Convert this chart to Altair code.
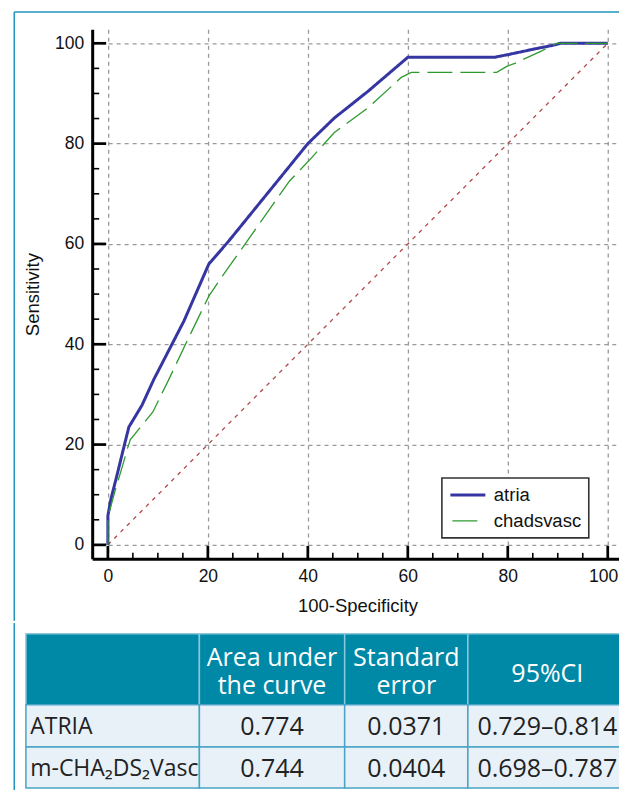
import altair as alt
import pandas as pd

# ---------------- ROC data ----------------
series_names = ["atria", "chadsvasc"]
atria_fpr = [0, 0, 0.6, 1.8, 3.2, 4.2, 6.8, 9.2, 15.2, 20.2, 24.2, 33.9, 40.0, 45.3, 52.0, 58.7, 60.0, 77.3, 80.8, 85.0, 89.5, 90.5, 100]
atria_tpr = [0, 5.8, 9.1, 13.8, 19.5, 23.5, 27.8, 33.0, 44.6, 56.0, 60.6, 72.5, 80.0, 85.1, 90.4, 96.1, 97.2, 97.2, 97.9, 98.8, 99.7, 100, 100]
chads_fpr = [0, 0, 1.5, 3.0, 4.0, 4.5, 9.0, 12.2, 16.5, 20.2, 22.9, 27.9, 36.3, 40.4, 45.3, 52.0, 58.7, 60.7, 77.8, 79.8, 81.4, 86.8, 89.8, 100]
chads_tpr = [0, 5.5, 11.0, 16.0, 19.5, 21.0, 26.5, 33.0, 42.0, 49.6, 53.6, 60.6, 72.5, 76.8, 82.2, 87.1, 93.2, 94.2, 94.2, 95.4, 96.0, 98.5, 100, 100]
diag_x = [0, 100]
diag_y = [0, 100]
major_ticks = [0, 20, 40, 60, 80, 100]
minor_ticks = [5, 10, 15, 25, 30, 35, 45, 50, 55, 65, 70, 75, 85, 90, 95]

# ---------------- table data ----------------
table_headers = ["", "Area under\nthe curve", "Standard\nerror", "95%CI"]
row_labels = ["ATRIA", "m-CHA\u2082DS\u2082Vasc"]
auc_values = ["0.774", "0.744"]
se_values = ["0.0371", "0.0404"]
ci_values = ["0.729\u20130.814", "0.698\u20130.787"]

# ---------------- styles / layout ----------------
BLUE = "#3636A3"
GREEN = "#2E9A2E"
RED = "#B5474A"
FRAME = "#2196BE"
HEAD_FILL = "#0088A7"
BODY_FILL = "#E8F1F8"
AX_FONT = "Liberation Sans"
TB_FONT = "Open Sans"

W, H = 531, 530
xs = alt.Scale(domain=[-3.14, 103.0], nice=False, zero=False)
ys = alt.Scale(domain=[-2.79, 102.79], nice=False, zero=False)

rows = []
for s, fx, fy in [(series_names[0], atria_fpr, atria_tpr), (series_names[1], chads_fpr, chads_tpr)]:
    for i, (a, b) in enumerate(zip(fx, fy)):
        rows.append({"series": s, "fpr": a, "tpr": b, "i": i})
roc_df = pd.DataFrame(rows)
diag_df = pd.DataFrame({"fpr": diag_x, "tpr": diag_y})
major_df = pd.DataFrame({"fpr": major_ticks, "tpr": major_ticks})
minor_df = pd.DataFrame({"fpr": minor_ticks, "tpr": minor_ticks})
one = pd.DataFrame({"a": [0]})

axis_common = dict(
    values=major_ticks, grid=True, gridColor="#9a9a9a", gridDash=[4, 4], gridWidth=1.3,
    domainColor="black", domainWidth=3, ticks=False, tickSize=0,
    labelFont=AX_FONT, labelFontSize=17.5, labelColor="#111",
    titleFont=AX_FONT, titleFontSize=18.5, titleFontWeight="normal", titleColor="#111",
)
# last x label is nudged flush so it stays inside the page
x_axis = alt.Axis(labelPadding=9, titlePadding=11, labelFlush=15.35, labelFlushOffset=10, **axis_common)
y_axis = alt.Axis(labelPadding=8.5, titlePadding=12.5, labelFlush=False, **axis_common)
X_TITLE = "100-Specificity"
Y_TITLE = "Sensitivity"


def xenc():
    return alt.X("fpr:Q", scale=xs, axis=x_axis, title=X_TITLE)


def yenc():
    return alt.Y("tpr:Q", scale=ys, axis=y_axis, title=Y_TITLE)


leg = alt.Legend(
    title=None, orient="none", legendX=350, legendY=449, direction="vertical",
    symbolType="stroke", symbolSize=1225, clipHeight=20, symbolDashOffset=31,
    labelFont=AX_FONT, labelFontSize=18.5,
    labelColor="#111", labelOffset=7, padding=7, rowPadding=6,
    fillColor="white", strokeColor="#333",
)

diag = alt.Chart(diag_df).mark_line(color=RED, strokeWidth=1.3, strokeDash=[4, 5]).encode(
    x=xenc(), y=yenc())

curves = alt.Chart(roc_df).mark_line().encode(
    x=xenc(), y=yenc(),
    color=alt.Color("series:N", scale=alt.Scale(domain=series_names, range=[BLUE, GREEN]), legend=leg),
    strokeWidth=alt.StrokeWidth("series:N", scale=alt.Scale(domain=series_names, range=[3, 1.3]), legend=leg),
    strokeDash=alt.StrokeDash("series:N", scale=alt.Scale(domain=series_names, range=[[1, 0], [25, 8]]), legend=None),
    order="i:Q",
)

ytick_major = alt.Chart(major_df).mark_rule(color="black", strokeWidth=2.7).encode(
    y=yenc(), x=alt.value(0), x2=alt.value(14))
ytick_minor = alt.Chart(minor_df).mark_rule(color="black", strokeWidth=1.6).encode(
    y=yenc(), x=alt.value(0), x2=alt.value(7))
xtick_major = alt.Chart(major_df).mark_rule(color="black", strokeWidth=2.7).encode(
    x=xenc(), y=alt.value(H), y2=alt.value(H - 13))
xtick_minor = alt.Chart(minor_df).mark_rule(color="black", strokeWidth=1.6).encode(
    x=xenc(), y=alt.value(H), y2=alt.value(H - 6))

frame_top = alt.Chart(one).mark_rule(color=FRAME, strokeWidth=1.5).encode(
    x=alt.value(-78), x2=alt.value(535), y=alt.value(-17.3))
frame_left = alt.Chart(one).mark_rule(color=FRAME, strokeWidth=1.5).encode(
    x=alt.value(-78), y=alt.value(-17.3), y2=alt.value(592))

roc_chart = alt.layer(
    frame_top, frame_left, diag, curves, ytick_major, ytick_minor, xtick_major, xtick_minor
).properties(width=W, height=H)

# ---------------- table ----------------
col_w = [173.6, 145.4, 123.3, 159.0]
row_h = [71.0, 42.4, 41.0]
LINE_H = 28
TW, TH = sum(col_w), sum(row_h)
TABLE_SHIFT = 66.3   # table starts this far left of the plot's left edge
TVW = TW - TABLE_SHIFT
col_edges = [sum(col_w[:k]) for k in range(len(col_w) + 1)]
row_edges = [sum(row_h[:k]) for k in range(len(row_h) + 1)]

body = [[row_labels[r], auc_values[r], se_values[r], ci_values[r]] for r in range(len(row_labels))]
all_rows = [table_headers] + body
cells = []
for r, texts in enumerate(all_rows):
    for c, t in enumerate(texts):
        mid = (row_edges[r] + row_edges[r + 1]) / 2
        n_lines = t.count("\n") + 1
        if r == 0:
            cy = mid - (n_lines - 1) * LINE_H / 2 + (2.5 if n_lines > 1 else 5)
        else:
            cy = mid + 1.5
        cells.append({
            "x": col_edges[c], "x2": col_edges[c + 1],
            "y": row_edges[r], "y2": row_edges[r + 1],
            "cx": (col_edges[c] + col_edges[c + 1]) / 2 if c > 0 else col_edges[c] + 4.3,
            "cy": cy,
            "text": t, "row": r, "col": c,
            "fill": HEAD_FILL if r == 0 else BODY_FILL,
            "line": "#8CC8DC" if r == 0 else "#4AA3C6",
        })
cell_df = pd.DataFrame(cells)

txs = alt.Scale(domain=[TABLE_SHIFT, TW], nice=False, zero=False)
tys = alt.Scale(domain=[0, TH], nice=False, zero=False, reverse=True)

rects = alt.Chart(cell_df).mark_rect(strokeWidth=1.5).encode(
    x=alt.X("x:Q", scale=txs, axis=None), x2="x2:Q",
    y=alt.Y("y:Q", scale=tys, axis=None), y2="y2:Q",
    fill=alt.Fill("fill:N", scale=None), stroke=alt.Stroke("line:N", scale=None),
)
head_text = alt.Chart(cell_df).transform_filter("datum.row == 0").mark_text(
    font=TB_FONT, fontSize=25, color="white", align="center", baseline="middle",
    lineBreak="\n", lineHeight=LINE_H,
).encode(x=alt.X("cx:Q", scale=txs, axis=None), y=alt.Y("cy:Q", scale=tys, axis=None), text="text:N")
body_left = alt.Chart(cell_df).transform_filter("datum.row > 0 && datum.col == 0").mark_text(
    font=TB_FONT, fontSize=23, color="#222", align="left", baseline="middle",
).encode(x=alt.X("cx:Q", scale=txs, axis=None), y=alt.Y("cy:Q", scale=tys, axis=None), text="text:N")
body_center = alt.Chart(cell_df).transform_filter("datum.row > 0 && datum.col > 0").mark_text(
    font=TB_FONT, fontSize=25, color="#222", align="center", baseline="middle",
).encode(x=alt.X("cx:Q", scale=txs, axis=None), y=alt.Y("cy:Q", scale=tys, axis=None), text="text:N")
frame_left2 = alt.Chart(one).mark_rule(color=FRAME, strokeWidth=1.5).encode(
    x=alt.value(-78), y=alt.value(-10.8), y2=alt.value(167.7))

table_chart = alt.layer(frame_left2, rects, head_text, body_left, body_center).properties(width=TVW, height=TH)

chart = alt.vconcat(roc_chart, table_chart, spacing=0).properties(
    padding={"left": 5.25, "top": 2, "right": -8.75, "bottom": -12.75},
    background="white",
).configure_view(strokeWidth=0).configure_legend(strokeWidth=1.6)

chart.save("out.html", embed_options={"renderer": "svg", "actions": False})
